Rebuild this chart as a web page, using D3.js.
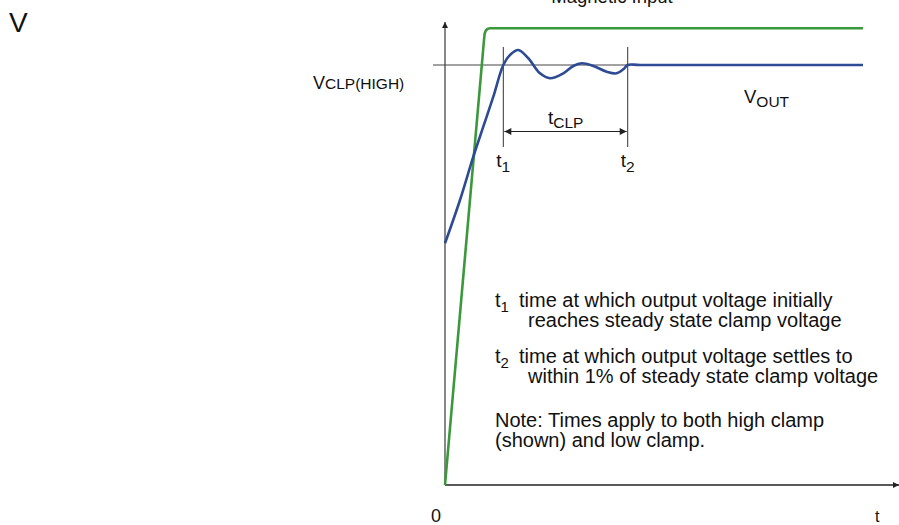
<!DOCTYPE html>
<html>
<head>
<meta charset="utf-8">
<script src="https://cdn.jsdelivr.net/npm/d3@7"></script>
<style>
  body { margin: 0; background: #fff; }
  text { font-family: "Liberation Sans", Arial, sans-serif; fill: #111; }
</style>
</head>
<body>
<div id="chart"></div>
<script>
// chart size
var width = 899;
var height = 525;

// data: time (arbitrary units 0..100) and voltage (clamp level = 1)
var inputTime  = [0, 9.33, 9.47, 9.76, 10.24, 10.77, 100];
var inputVolts = [0, 1.0595, 1.0738, 1.0821, 1.0864, 1.0874, 1.0874];

var outTime  = [0, 3.59, 6.77, 9.16, 11.56, 13.95, 15.55, 17.54, 19.93, 22.73, 25.12, 28.30, 30.69, 32.70, 35.48, 38.68, 41.08, 42.66, 43.71, 46.65, 100];
var outVolts = [0.5755, 0.6786, 0.7817, 0.8531, 0.9245, 1.0, 1.0238, 1.0357, 1.0160, 0.9802, 0.9683, 0.9802, 0.9976, 1.0040, 0.9976, 0.9840, 0.9802, 0.9897, 1.0, 1.0, 1.0];

var clampLevel = 1.0;
var t1 = 13.95;
var t2 = 43.71;

var legendLines = [
  ['1', 'time at which output voltage initially', 'reaches steady state clamp voltage'],
  ['2', 'time at which output voltage settles to', 'within 1% of steady state clamp voltage']
];
var noteLines = ['Note: Times apply to both high clamp', '(shown) and low clamp.'];

var svg = d3.select('#chart')
  .append('svg')
  .attr('width', width)
  .attr('height', height);

// scales
var x = d3.scaleLinear().domain([0, 100]).range([445, 863]);
var y = d3.scaleLinear().domain([0, 1]).range([485, 65]);

// arrow markers
var defs = svg.append('defs');
defs.append('marker')
  .attr('id', 'axisArrow')
  .attr('viewBox', '0 0 10 10')
  .attr('refX', 10).attr('refY', 5)
  .attr('markerWidth', 7).attr('markerHeight', 6)
  .attr('markerUnits', 'userSpaceOnUse')
  .attr('orient', 'auto')
  .append('path').attr('d', 'M0,0 L10,5 L0,10 Z').attr('fill', '#222');
defs.append('marker')
  .attr('id', 'dimArrow')
  .attr('viewBox', '0 0 10 10')
  .attr('refX', 10).attr('refY', 5)
  .attr('markerWidth', 14).attr('markerHeight', 7)
  .attr('markerUnits', 'userSpaceOnUse')
  .attr('orient', 'auto-start-reverse')
  .append('path').attr('d', 'M0,0 L10,5 L0,10 Z').attr('fill', '#222');

// axes
svg.append('line')
  .attr('x1', x(0)).attr('y1', y(0))
  .attr('x2', x(0)).attr('y2', 22)
  .attr('stroke', '#555').attr('stroke-width', 1.4)
  .attr('marker-end', 'url(#axisArrow)');
svg.append('line')
  .attr('x1', x(0)).attr('y1', y(0))
  .attr('x2', 899).attr('y2', y(0))
  .attr('stroke', '#222').attr('stroke-width', 1.4)
  .attr('marker-end', 'url(#axisArrow)');

// clamp level reference line
svg.append('line')
  .attr('x1', 433).attr('y1', y(clampLevel))
  .attr('x2', x(t2)).attr('y2', y(clampLevel))
  .attr('stroke', '#444').attr('stroke-width', 1);

// t1 / t2 markers
[t1, t2].forEach(function(t) {
  svg.append('line')
    .attr('x1', x(t)).attr('y1', 47)
    .attr('x2', x(t)).attr('y2', 147)
    .attr('stroke', '#333').attr('stroke-width', 1);
});
svg.append('line')
  .attr('x1', x(t1) + 1).attr('y1', 131.5)
  .attr('x2', x(t2) - 1).attr('y2', 131.5)
  .attr('stroke', '#222').attr('stroke-width', 1.2)
  .attr('marker-start', 'url(#dimArrow)')
  .attr('marker-end', 'url(#dimArrow)');

// curves
var inputLine = d3.line()
  .x(function(d) { return x(d[0]); })
  .y(function(d) { return y(d[1]); });

var outLine = d3.line()
  .x(function(d) { return x(d[0]); })
  .y(function(d) { return y(d[1]); })
  .curve(d3.curveCatmullRom.alpha(0.5));

svg.append('path')
  .datum(d3.zip(inputTime, inputVolts))
  .attr('d', inputLine)
  .attr('fill', 'none')
  .attr('stroke', '#3b983b')
  .attr('stroke-width', 2.6)
  .attr('stroke-linejoin', 'round');

svg.append('path')
  .datum(d3.zip(outTime, outVolts))
  .attr('d', outLine)
  .attr('fill', 'none')
  .attr('stroke', '#2d4a94')
  .attr('stroke-width', 2.6);

// labels
svg.append('text').attr('x', 612).attr('y', 3)
  .style('text-anchor', 'middle').style('font-size', '18.5px')
  .text('Magnetic Input');

svg.append('text').attr('x', 9).attr('y', 32)
  .style('font-size', '28px').text('V');

var vclp = svg.append('text').attr('x', 313).attr('y', 89);
vclp.append('tspan').style('font-size', '18px').text('V');
vclp.append('tspan').style('font-size', '15.5px').text('CLP(HIGH)');

var vout = svg.append('text').attr('x', 744).attr('y', 103);
vout.append('tspan').style('font-size', '18.5px').text('V');
vout.append('tspan').attr('dy', 4).style('font-size', '15.5px').text('OUT');

var tclp = svg.append('text').attr('x', 548).attr('y', 124);
tclp.append('tspan').style('font-size', '19px').text('t');
tclp.append('tspan').attr('dy', 4).style('font-size', '15.5px').text('CLP');

[[t1, '1'], [t2, '2']].forEach(function(d) {
  var tx = svg.append('text').attr('x', x(d[0]) - 7).attr('y', 167);
  tx.append('tspan').style('font-size', '19px').text('t');
  tx.append('tspan').attr('dy', 5).style('font-size', '15.5px').text(d[1]);
});

svg.append('text').attr('x', 431).attr('y', 522)
  .style('font-size', '18px').text('0');
svg.append('text').attr('x', 875).attr('y', 522)
  .style('font-size', '16px').text('t');

// legend block
legendLines.forEach(function(d, i) {
  var top = 307 + i * 56;
  var lab = svg.append('text').attr('x', 495).attr('y', top);
  lab.append('tspan').style('font-size', '20px').text('t');
  lab.append('tspan').attr('dy', 5).style('font-size', '15px').text(d[0]);
  svg.append('text').attr('x', 519).attr('y', top)
    .style('font-size', '20px').text(d[1]);
  svg.append('text').attr('x', 528).attr('y', top + 19.5)
    .style('font-size', '20px').text(d[2]);
});
noteLines.forEach(function(s, i) {
  svg.append('text').attr('x', 495).attr('y', 427 + i * 19.5)
    .style('font-size', '20px').text(s);
});
</script>
</body>
</html>
